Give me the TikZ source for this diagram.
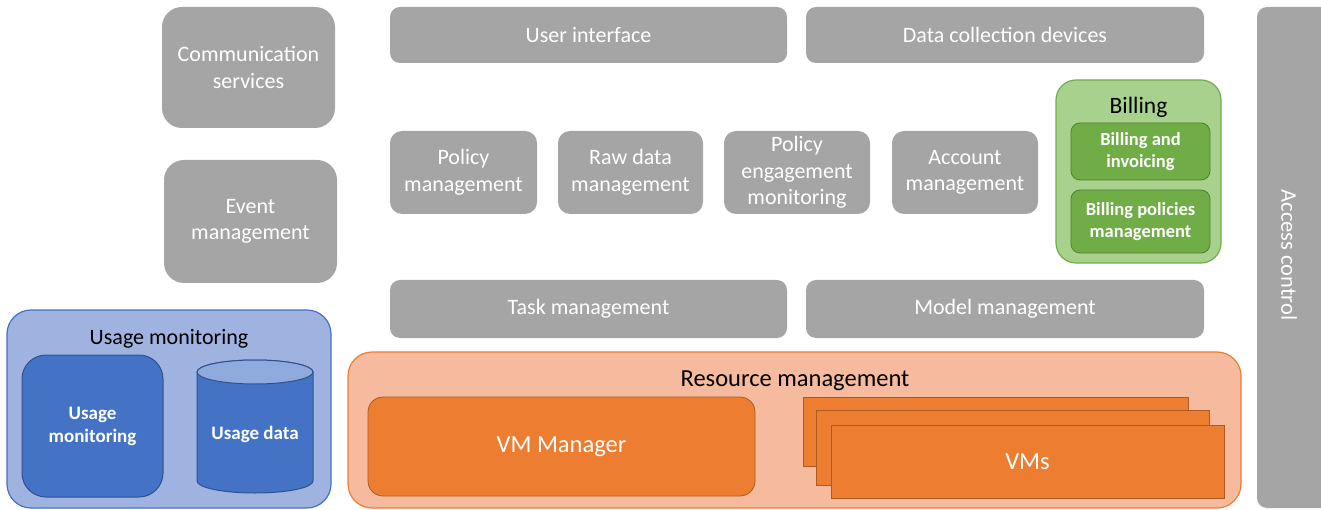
\documentclass[tikz,border=0pt]{standalone}
\usepackage{fontspec}
\setmainfont{Carlito}
\definecolor{gbox}{HTML}{A5A5A5}
\definecolor{bout}{RGB}{160,178,224}
\definecolor{bline}{HTML}{4472C4}
\definecolor{bin}{HTML}{4472C4}
\definecolor{binl}{HTML}{2F528F}
\definecolor{btop}{HTML}{8FAADC}
\definecolor{oout}{RGB}{246,187,159}
\definecolor{oline}{HTML}{ED7D31}
\definecolor{oin}{HTML}{ED7D31}
\definecolor{oinl}{HTML}{AE5A21}
\definecolor{gout}{HTML}{A9D18E}
\definecolor{gline}{HTML}{70AD47}
\definecolor{gin}{HTML}{70AD47}
\definecolor{ginl}{HTML}{507E32}
\begin{document}
\begin{tikzpicture}[x=1pt,y=1pt,
  every node/.style={inner sep=0pt, outer sep=0pt},
  graybox/.style={fill=gbox, rounded corners=12pt, text=white, align=center,
    font=\fontsize{22}{26.5}\selectfont},
  outerblue/.style={fill=bout, draw=bline, line width=1.2pt, rounded corners=24pt},
  innerblue/.style={fill=bin, draw=binl, line width=1pt, rounded corners=24pt, text=white, align=center,
    font=\fontsize{19}{23}\selectfont\bfseries},
  outerorange/.style={fill=oout, draw=oline, line width=1.2pt, rounded corners=24pt},
  innerorange/.style={fill=oin, draw=oinl, line width=0.8pt, text=white, align=center,
    font=\fontsize{24.5}{28}\selectfont},
  outergreen/.style={fill=gout, draw=gline, line width=1.2pt, rounded corners=20pt},
  innergreen/.style={fill=gin, draw=ginl, line width=0.8pt, rounded corners=9pt, text=white, align=center,
    font=\fontsize{18.5}{22}\selectfont\bfseries},
  header/.style={text=black, font=\fontsize{22}{26}\selectfont}
]
\useasboundingbox (0,0) rectangle (1321,-510);

% access control (right edge runs off the page)
\node[graybox, rounded corners=10pt, minimum width=83pt, minimum height=501pt] (acc) at (1298.5,-257.5) {};
\node[text=white, font=\fontsize{22.5}{26}\selectfont, rotate=-90] (acclabel) at (1289,-255) {Access control};

% left column
\node[graybox, rounded corners=20pt, minimum width=173pt, minimum height=121pt] (comm) at (248.5,-67.5) {Communication\\services};
\node[graybox, rounded corners=20pt, minimum width=173pt, minimum height=123pt] (event) at (250.5,-221.5) {Event\\management};

% top row
\node[graybox, rounded corners=10pt, minimum width=397pt, minimum height=56pt] (ui) at (588.5,-35) {User interface};
\node[graybox, rounded corners=10pt, minimum width=398pt, minimum height=56pt] (dcd) at (1005,-35) {Data collection devices};

% middle row
\node[graybox, minimum width=147pt, minimum height=83pt] (pol) at (463.5,-172.5) {Policy\\management};
\node[graybox, minimum width=145pt, minimum height=83pt] (raw) at (630.5,-172.5) {Raw data\\management};
\node[graybox, minimum width=146pt, minimum height=83pt] (peng) at (797,-172.5) {Policy\\engagement\\monitoring};
\node[graybox, minimum width=146pt, minimum height=83pt] (acct) at (965,-172.5) {Account\\management};

% billing
\node[outergreen, minimum width=165pt, minimum height=183pt] (billing) at (1138.5,-171.5) {};
\node[header, font=\fontsize{23.5}{26}\selectfont] (billinghdr) at (1138.5,-107) {Billing};
\node[innergreen, minimum width=139pt, minimum height=57pt] (bi) at (1140.5,-151.5) {Billing and\\invoicing};
\node[innergreen, minimum width=139pt, minimum height=63pt] (bp) at (1140.5,-221.5) {Billing policies\\management};

% task / model
\node[graybox, rounded corners=10pt, minimum width=397pt, minimum height=58pt] (task) at (588.5,-309) {Task management};
\node[graybox, rounded corners=10pt, minimum width=398pt, minimum height=58pt] (model) at (1005,-309) {Model management};

% usage monitoring
\node[outerblue, minimum width=324pt, minimum height=198pt] (usage) at (169,-409) {};
\node[header] (usagehdr) at (169,-339) {Usage monitoring};
\node[innerblue, minimum width=141pt, minimum height=142pt] (um) at (92.5,-426) {Usage\\monitoring};
\filldraw[fill=bin, draw=binl, line width=1pt]
  (197,-372) -- (197,-481) arc[start angle=180, end angle=360, x radius=58pt, y radius=12pt]
  -- (313,-372) arc[start angle=0, end angle=180, x radius=58pt, y radius=12pt] -- cycle;
\filldraw[fill=btop, draw=binl, line width=1pt] (255,-372) ellipse[x radius=58pt, y radius=12pt];
\node[text=white, font=\fontsize{19}{23}\selectfont\bfseries] (udata) at (255,-434) {Usage data};

% resource management
\node[outerorange, minimum width=893pt, minimum height=156pt] (res) at (794.5,-430) {};
\node[header, font=\fontsize{24.5}{28}\selectfont] (reshdr) at (795,-381) {Resource management};
\node[innerorange, rounded corners=15pt, minimum width=387pt, minimum height=99pt] (vmm) at (561.5,-446.5) {VM Manager};
\node[innerorange, minimum width=385pt, minimum height=69pt] (vm1) at (995.5,-431.5) {};
\node[innerorange, minimum width=393pt, minimum height=75pt] (vm2) at (1012.5,-447.5) {};
\node[innerorange, minimum width=393pt, minimum height=73pt] (vm3) at (1027.5,-461.5) {VMs};
\end{tikzpicture}
\end{document}
